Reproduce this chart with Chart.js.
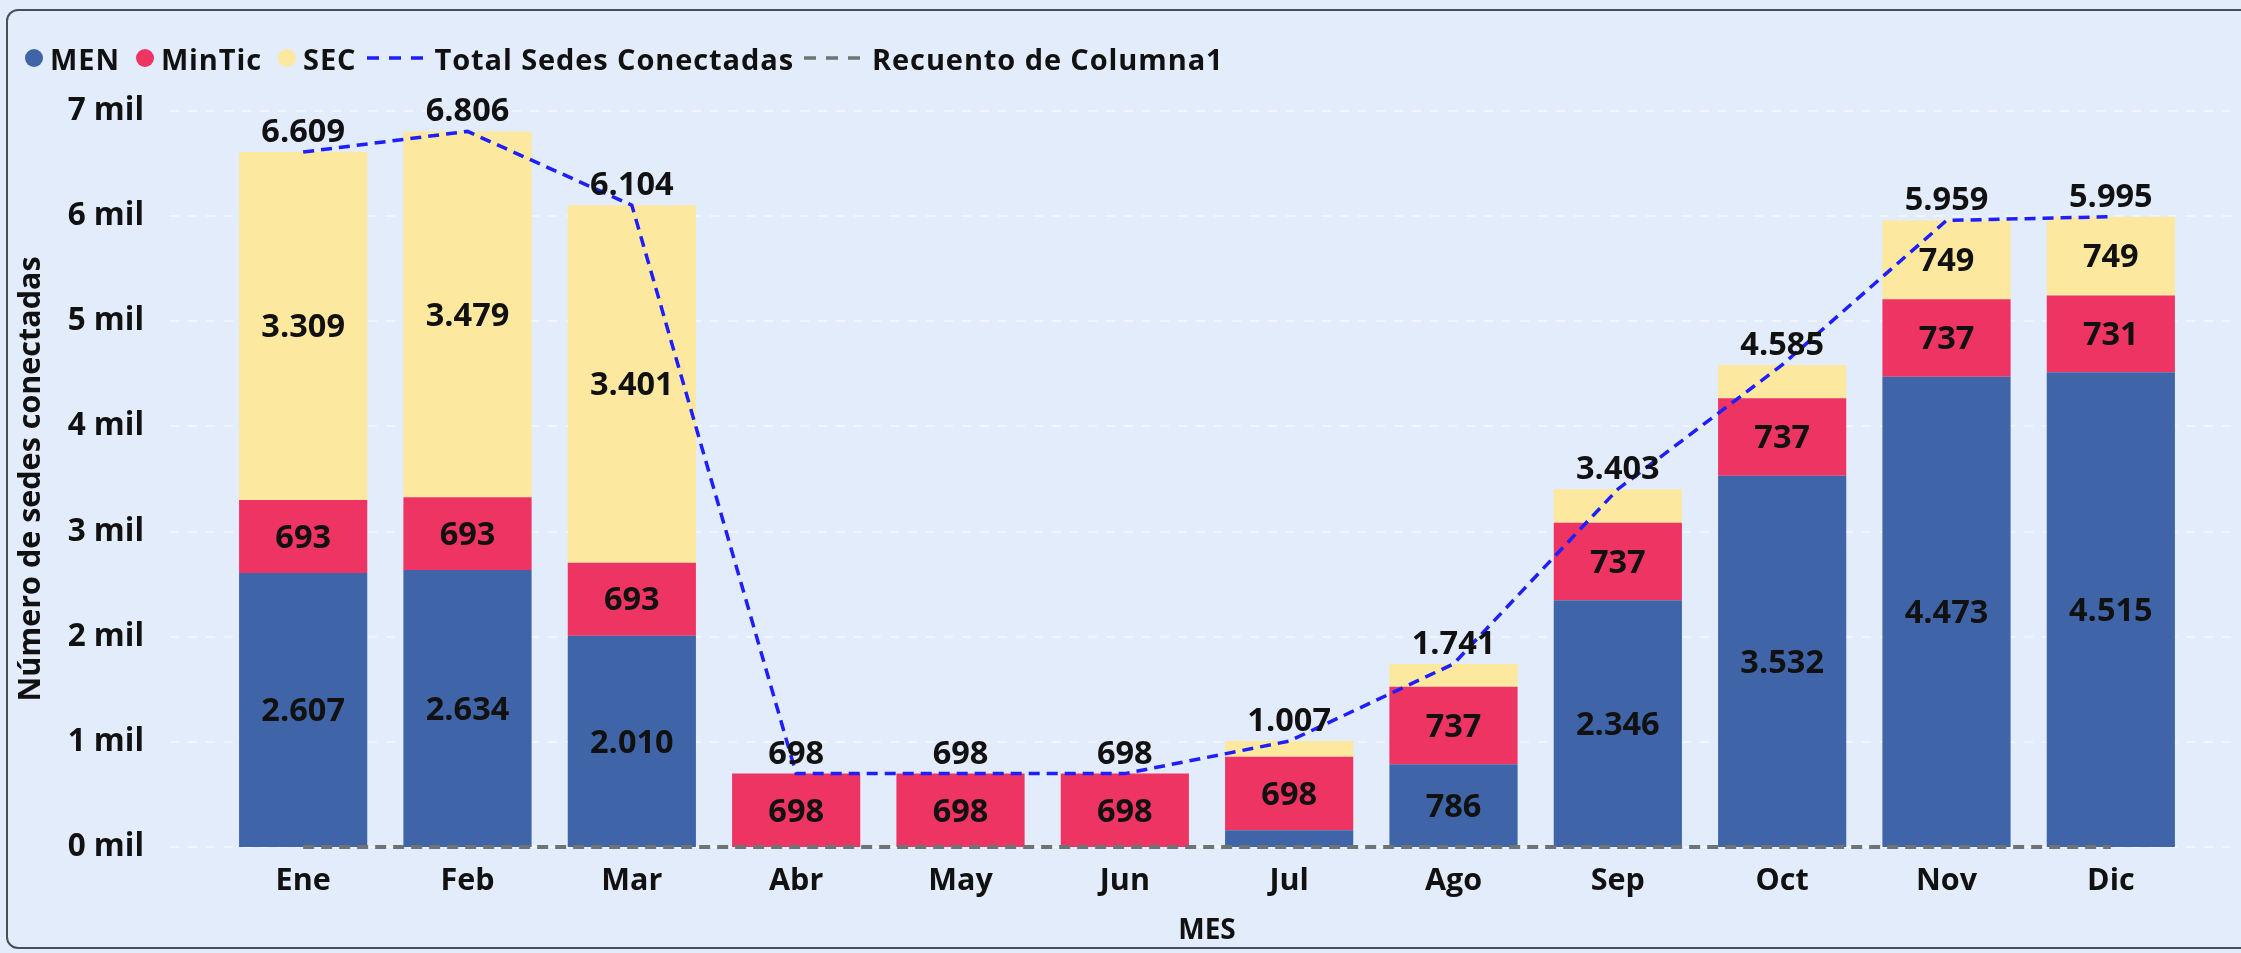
<!DOCTYPE html>
<html>
<head>
<meta charset="utf-8">
<script src="https://cdn.jsdelivr.net/npm/chart.js@4.4.1/dist/chart.umd.min.js"></script>
<style>
  html, body { margin: 0; padding: 0; }
  body { width: 2241px; height: 953px; overflow: hidden; position: relative; background: #E3ECFA; font-family: 'Open Sans', sans-serif; }
  .frame { position: absolute; left: 6px; top: 9px; width: 2270px; height: 940px; border: 2px solid #4a4f56; border-radius: 12px; box-sizing: border-box; }
  #chart { position: absolute; left: 0; top: 0; }
  #legend { position: absolute; left: 25px; top: 38px; height: 40px; display: flex; align-items: center; font-size: 29px; font-weight: 700; color: #111; white-space: nowrap; letter-spacing: 0.9px; }
  #legend .item { display: flex; align-items: center; margin-right: 16px; }
  #legend .dot { width: 18px; height: 18px; border-radius: 50%; margin-right: 7px; }
  #legend svg { margin-right: 12px; }
  #legend .line-item { margin-left: -6px; }
</style>
</head>
<body>
<div class="frame"></div>
<canvas id="chart" width="2241" height="953"></canvas>
<div id="legend"></div>
<script>
const months = ['Ene', 'Feb', 'Mar', 'Abr', 'May', 'Jun', 'Jul', 'Ago', 'Sep', 'Oct', 'Nov', 'Dic'];
const men = [2607, 2634, 2010, 0, 0, 0, 160, 786, 2346, 3532, 4473, 4515];
const minTic = [693, 693, 693, 698, 698, 698, 698, 737, 737, 737, 737, 731];
const sec = [3309, 3479, 3401, 0, 0, 0, 149, 218, 320, 316, 749, 749];
const totalSedes = [6609, 6806, 6104, 698, 698, 698, 1007, 1741, 3403, 4585, 5959, 5995];
const recuento = [0, 0, 0, 0, 0, 0, 0, 0, 0, 0, 0, 0];

const COLORS = { men: '#3F65A8', minTic: '#EE3462', sec: '#FCE89F', total: '#1E1EFF', recuento: '#6E7373' };

function fmt(v) {
    return String(v).replace(/\B(?=(\d{3})+(?!\d))/g, '.');
}

// legend (html so the text stays text)
const legendItems = [
    { label: 'MEN', color: COLORS.men, kind: 'dot' },
    { label: 'MinTic', color: COLORS.minTic, kind: 'dot' },
    { label: 'SEC', color: COLORS.sec, kind: 'dot' },
    { label: 'Total Sedes Conectadas', color: COLORS.total, kind: 'line' },
    { label: 'Recuento de Columna1', color: COLORS.recuento, kind: 'line' }
];
const legendEl = document.getElementById('legend');
legendItems.forEach(it => {
    const d = document.createElement('div');
    d.className = 'item' + (it.kind === 'line' ? ' line-item' : '');
    if (it.kind === 'dot') {
        d.innerHTML = `<span class="dot" style="background:${it.color}"></span><span>${it.label}</span>`;
    } else {
        d.innerHTML = `<svg width="56" height="6"><line x1="0" y1="3" x2="56" y2="3" stroke="${it.color}" stroke-width="3.5" stroke-dasharray="12 10"/></svg><span>${it.label}</span>`;
    }
    legendEl.appendChild(d);
});

const gridPlugin = {
    id: 'wideGrid',
    beforeDatasetsDraw(chart) {
        const { ctx, scales: { y } } = chart;
        ctx.save();
        ctx.strokeStyle = '#F1F4FA';
        ctx.lineWidth = 2;
        ctx.setLineDash([9, 9]);
        y.ticks.forEach(t => {
            const py = Math.round(y.getPixelForValue(t.value));
            ctx.beginPath();
            ctx.moveTo(170, py);
            ctx.lineTo(2236, py);
            ctx.stroke();
        });
        ctx.restore();
    }
};

const labelPlugin = {
    id: 'valueLabels',
    afterDatasetsDraw(chart) {
        const { ctx } = chart;
        ctx.save();
        ctx.fillStyle = '#111';
        ctx.font = "bold 32.5px 'Open Sans', sans-serif";
        ctx.textAlign = 'center';
        [0, 1, 2].forEach(di => {
            const meta = chart.getDatasetMeta(di);
            const values = chart.data.datasets[di].data;
            meta.data.forEach((bar, i) => {
                const h = bar.base - bar.y;
                if (!values[i] || h < 40) return;
                ctx.textBaseline = 'middle';
                ctx.fillText(fmt(values[i]), bar.x, (bar.y + bar.base) / 2 + 2);
            });
        });
        const lineMeta = chart.getDatasetMeta(3);
        lineMeta.data.forEach((pt, i) => {
            ctx.textBaseline = 'alphabetic';
            ctx.fillText(fmt(totalSedes[i]), pt.x, pt.y - 10);
        });
        ctx.restore();
    }
};

Chart.defaults.font.family = "'Open Sans', sans-serif";
Chart.defaults.color = '#111';

new Chart(document.getElementById('chart'), {
    type: 'bar',
    data: {
        labels: months,
        datasets: [
            { label: 'MEN', data: men, backgroundColor: COLORS.men, stack: 'bars' },
            { label: 'MinTic', data: minTic, backgroundColor: COLORS.minTic, stack: 'bars' },
            { label: 'SEC', data: sec, backgroundColor: COLORS.sec, stack: 'bars' },
            {
                type: 'line', label: 'Total Sedes Conectadas', data: totalSedes, stack: 'total',
                borderColor: COLORS.total, borderWidth: 3.5, borderDash: [11, 7], pointRadius: 0,
                tension: 0, order: -1
            },
            {
                type: 'line', label: 'Recuento de Columna1', data: recuento, stack: 'recuento',
                borderColor: COLORS.recuento, borderWidth: 4, borderDash: [11, 7], pointRadius: 0,
                clip: false, order: -2
            }
        ]
    },
    options: {
        responsive: false,
        animation: false,
        layout: { padding: { top: 111, right: 48, left: 0, bottom: 0 } },
        datasets: { bar: { categoryPercentage: 1, barPercentage: 0.78, borderWidth: 0 } },
        plugins: { legend: { display: false }, tooltip: { enabled: false } },
        scales: {
            x: {
                stacked: true,
                grid: { display: false },
                border: { display: false },
                ticks: { font: { size: 30.5, weight: 'bold' }, padding: 8, color: '#111' },
                title: { display: true, text: 'MES', font: { size: 28, weight: 'bold' }, padding: { top: 0, bottom: 5 }, color: '#111' },
                afterFit(scale) { scale.height = 106; }
            },
            y: {
                stacked: true,
                min: 0,
                max: 7000,
                grid: { display: false },
                border: { display: false },
                ticks: {
                    stepSize: 1000,
                    font: { size: 31.5, weight: 'bold' },
                    padding: 69,
                    color: '#111',
                    callback: v => (v / 1000) + ' mil'
                },
                title: { display: true, text: 'Número de sedes conectadas', font: { size: 30.5, weight: 'bold' }, padding: { top: 13, bottom: 0 }, color: '#111' },
                afterFit(scale) { scale.width = 221; }
            }
        }
    },
    plugins: [gridPlugin, labelPlugin]
});
</script>
</body>
</html>
